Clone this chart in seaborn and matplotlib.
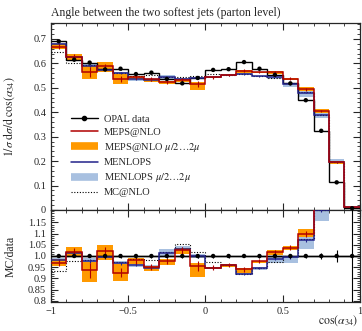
import numpy as np
import pandas as pd
import matplotlib
matplotlib.use("Agg")
import matplotlib.pyplot as plt
from matplotlib.lines import Line2D
from matplotlib.ticker import MultipleLocator
import seaborn as sns

# ---------------- data ----------------
bin_edges = [-1.0, -0.9, -0.8, -0.7, -0.6, -0.5, -0.4, -0.3, -0.2, -0.1, 0.0,
             0.1, 0.2, 0.3, 0.4, 0.5, 0.6, 0.7, 0.8, 0.9, 1.0]
bin_centers = [-0.95, -0.85, -0.75, -0.65, -0.55, -0.45, -0.35, -0.25, -0.15, -0.05,
               0.05, 0.15, 0.25, 0.35, 0.45, 0.55, 0.65, 0.75, 0.85, 0.95]

opal = [0.690, 0.615, 0.603, 0.575, 0.578, 0.556, 0.562, 0.536, 0.518, 0.540,
        0.573, 0.576, 0.605, 0.578, 0.553, 0.518, 0.449, 0.324, 0.113, 0.007]
opal_err = [0.004, 0.004, 0.004, 0.004, 0.004, 0.004, 0.004, 0.004, 0.004, 0.004,
            0.004, 0.004, 0.004, 0.004, 0.004, 0.004, 0.004, 0.004, 0.003, 0.002]

meps = [0.668, 0.627, 0.565, 0.587, 0.535, 0.545, 0.534, 0.524, 0.531, 0.515,
        0.543, 0.553, 0.569, 0.565, 0.563, 0.537, 0.493, 0.405, 0.195, 0.011]
meps_err = [0.010, 0.010, 0.020, 0.010, 0.012, 0.010, 0.008, 0.008, 0.008, 0.012,
            0.006, 0.005, 0.006, 0.005, 0.006, 0.006, 0.006, 0.005, 0.003, 0.001]
meps_lo = [0.659, 0.615, 0.534, 0.566, 0.514, 0.537, 0.525, 0.515, 0.523, 0.489,
           0.540, 0.547, 0.560, 0.561, 0.556, 0.531, 0.487, 0.398, 0.190, 0.0095]
meps_hi = [0.680, 0.640, 0.588, 0.604, 0.558, 0.550, 0.537, 0.528, 0.536, 0.524,
           0.545, 0.556, 0.572, 0.566, 0.568, 0.540, 0.503, 0.412, 0.200, 0.0125]

menlops = [0.678, 0.624, 0.590, 0.572, 0.559, 0.534, 0.533, 0.542, 0.535, 0.539,
           0.543, 0.553, 0.557, 0.547, 0.546, 0.515, 0.480, 0.390, 0.195, 0.011]
menlops_err = [0.004, 0.004, 0.005, 0.004, 0.004, 0.004, 0.004, 0.004, 0.004, 0.004,
               0.003, 0.003, 0.003, 0.003, 0.003, 0.003, 0.003, 0.003, 0.002, 0.001]
menlops_lo = [0.673, 0.621, 0.582, 0.566, 0.552, 0.528, 0.528, 0.533, 0.528, 0.535,
              0.541, 0.550, 0.554, 0.543, 0.536, 0.502, 0.462, 0.375, 0.188, 0.0095]
menlops_hi = [0.683, 0.630, 0.597, 0.578, 0.564, 0.542, 0.540, 0.552, 0.541, 0.545,
              0.546, 0.556, 0.563, 0.550, 0.550, 0.518, 0.487, 0.400, 0.210, 0.0125]

mcnlo = [0.645, 0.601, 0.593, 0.575, 0.562, 0.548, 0.552, 0.546, 0.545, 0.550,
         0.558, 0.553, 0.557, 0.548, 0.538, 0.518, 0.483, 0.390, 0.195, 0.011]

labels = ["OPAL data", "MEPS@NLO", r"MEPS@NLO $\mu/2\ldots2\mu$", "MENLOPS",
          r"MENLOPS $\mu/2\ldots2\mu$", "MC@NLO"]
title = "Angle between the two softest jets (parton level)"

# ---------------- style ----------------
sns.set_style("ticks")
plt.rcParams["font.family"] = ["Liberation Serif", "DejaVu Serif"]
plt.rcParams["mathtext.fontset"] = "stix"

c_red = "#b00000"
c_navy = "#22228a"
c_orange = "#ff9900"
c_lblue = "#a8c0e0"

edges = np.array(bin_edges)
cent = np.array(bin_centers)
d = np.array(opal)

fig = plt.figure(figsize=(3.62, 3.31), dpi=100)
ax = fig.add_axes([0.141, 0.3656, 0.853, 0.565])
rx = fig.add_axes([0.141, 0.0876, 0.853, 0.278], sharex=ax)


def draw(axis, scale):
    s = np.array(scale)
    axis.stairs(np.array(menlops_hi) / s, edges, baseline=np.array(menlops_lo) / s,
                fill=True, color=c_lblue, lw=0, zorder=1)
    axis.stairs(np.array(meps_hi) / s, edges, baseline=np.array(meps_lo) / s,
                fill=True, color=c_orange, lw=0, zorder=2)
    axis.stairs(np.array(mcnlo) / s, edges, color="black", ls=(0, (1, 1.5)), lw=0.8, zorder=3,
                baseline=None)
    axis.stairs(d / s, edges, color="black", lw=1.0, zorder=4, baseline=None)
    axis.stairs(np.array(menlops) / s, edges, color=c_navy, lw=1.1, zorder=5, baseline=None)
    axis.errorbar(cent, np.array(menlops) / s, yerr=np.array(menlops_err) / s, fmt="none",
                  ecolor=c_navy, elinewidth=0.8, zorder=5)
    axis.stairs(np.array(meps) / s, edges, color=c_red, lw=1.1, zorder=6, baseline=None)
    axis.errorbar(cent, np.array(meps) / s, yerr=np.array(meps_err) / s, fmt="none",
                  ecolor=c_red, elinewidth=0.8, zorder=6)
    dfp = pd.DataFrame({"x": cent, "y": d / s})
    axis.errorbar(cent, d / s, yerr=np.array(opal_err) / s, fmt="none", ecolor="black",
                  elinewidth=0.8, zorder=7)
    sns.scatterplot(data=dfp, x="x", y="y", ax=axis, color="black", s=10,
                    edgecolor="none", zorder=8, legend=False)


draw(ax, np.ones(20))
draw(rx, d)
rx.axhline(1.0, color="black", lw=1.0, zorder=4)

ax.set_xlim(-1, 1)
ax.set_ylim(0, 0.765)
rx.set_ylim(0.795, 1.205)

for a in (ax, rx):
    a.tick_params(which="both", direction="in", top=True, right=True, labelsize=7.5)
    a.tick_params(which="major", length=5, width=0.8)
    a.tick_params(which="minor", length=2.5, width=0.6)
    for sp in a.spines.values():
        sp.set_linewidth(0.9)
    a.set_xlabel("")
    a.set_ylabel("")

ax.xaxis.set_major_locator(MultipleLocator(0.5))
ax.xaxis.set_minor_locator(MultipleLocator(0.1))
ax.yaxis.set_minor_locator(MultipleLocator(0.02))
ax.set_yticks([0, 0.1, 0.2, 0.3, 0.4, 0.5, 0.6, 0.7])
ax.set_yticklabels(["0", "0.1", "0.2", "0.3", "0.4", "0.5", "0.6", "0.7"])
plt.setp(ax.get_xticklabels(), visible=False)

rx.set_yticks([0.8, 0.85, 0.9, 0.95, 1.0, 1.05, 1.1, 1.15])
rx.set_yticklabels(["0.8", "0.85", "0.9", "0.95", "1.0", "1.05", "1.1", "1.15"])
rx.yaxis.set_minor_locator(MultipleLocator(0.01))
rx.set_xticks([-1, -0.5, 0, 0.5, 1])
rx.set_xticklabels(["\u22121", "\u22120.5", "0", "0.5", "1"])

ax.set_ylabel(r"$1/\sigma\;\mathrm{d}\sigma/\mathrm{d}\;\cos(\alpha_{34})$", fontsize=8.5)
rx.set_ylabel("MC/data", fontsize=8.5)
ax.yaxis.set_label_coords(-0.11, 0.5)
rx.yaxis.set_label_coords(-0.11, 0.5)
rx.set_xlabel(r"$\cos(\alpha_{34})$", fontsize=8.5, ha="right", va="top")
rx.xaxis.set_label_coords(0.995, -0.125)
ax.set_title(title, fontsize=8.5, loc="left", pad=5)

handles = [
    Line2D([], [], color="black", lw=1.0, marker="o", markersize=3),
    Line2D([], [], color=c_red, lw=1.1),
    Line2D([], [], color=c_orange, lw=5.5, solid_capstyle="butt"),
    Line2D([], [], color=c_navy, lw=1.1),
    Line2D([], [], color=c_lblue, lw=5.5, solid_capstyle="butt"),
    Line2D([], [], color="black", lw=0.8, ls=(0, (1, 1.5))),
]
ax.legend(handles, labels, loc="lower left", bbox_to_anchor=(0.05, 0.045), frameon=False,
          fontsize=7.5, handlelength=2.6, labelspacing=0.38, handletextpad=0.6,
          borderaxespad=0)

fig.savefig("out.png", dpi=100)
